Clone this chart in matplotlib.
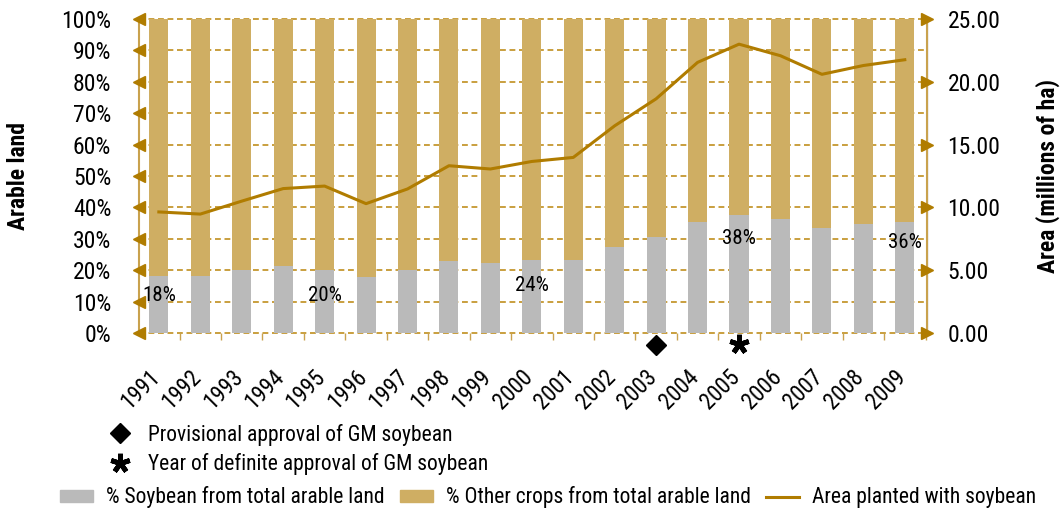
import numpy as np
from matplotlib import pyplot as plt
from matplotlib.lines import Line2D
from matplotlib.patches import Patch

plt.rcParams["font.family"] = ["Roboto Condensed", "Archivo Narrow",
                               "IBM Plex Sans Condensed", "DejaVu Sans"]

years = [str(y) for y in range(1991, 2010)]
soy_pct = [18, 18, 20, 21.5, 20, 17.7, 20, 22.8, 22.4, 23.4, 23.3,
           27.5, 30.7, 35.5, 37.5, 36.2, 33.6, 34.6, 35.5]
area_mha = [9.64, 9.47, 10.5, 11.5, 11.7, 10.3, 11.47, 13.32, 13.06, 13.66,
            13.98, 16.5, 18.65, 21.55, 23.0, 22.08, 20.6, 21.3, 21.76]
pct_labels = {"1991": "18%", "1995": "20%", "2000": "24%", "2005": "38%", "2009": "36%"}
provisional_year = "2003"
definite_year = "2005"

GOLD = "#CFAE63"
GRAY = "#BABABA"
LINE = "#B07C00"
AXIS = "#C9A24E"
GRID = "#C08F1E"

other_pct = [100 - v for v in soy_pct]
x = np.arange(len(years))

fig = plt.figure(figsize=(10.64, 5.15), dpi=100)
ax = fig.add_axes([0.1306, 0.3534, 0.7404, 0.6096])
ax2 = ax.twinx()

ax.bar(x, soy_pct, width=0.46, color=GRAY, zorder=3)
ax.bar(x, other_pct, width=0.46, bottom=soy_pct, color=GOLD, zorder=3)
ax.set_ylim(0, 100)
ax.set_xlim(-0.48, 18.53)

for v in range(0, 101, 10):
    ax.axhline(v, color=GRID, lw=1.2, ls=(0, (3.5, 2.2)), zorder=1, clip_on=False)

ax.set_yticks(range(0, 101, 10))
ax.set_yticklabels([f"{v}%" for v in range(0, 101, 10)], fontsize=17)
ax.tick_params(axis="y", length=0, pad=20)
ax.plot([0] * 11, range(0, 101, 10), marker="<", ms=8, color=LINE, ls="none",
        transform=ax.get_yaxis_transform(), clip_on=False, zorder=5)

ax.set_xticks(x + 0.5, minor=False)
ax.set_xticklabels([])
ax.tick_params(axis="x", length=5, color=AXIS, width=1)
for i, y in enumerate(years):
    ax.text(i - 0.26, -10.3, y, rotation=45, ha="right", va="top",
            rotation_mode="anchor", fontsize=16.5)

for s in ["top", "bottom"]:
    ax.spines[s].set_visible(False)
    ax2.spines[s].set_visible(False)
ax.spines["left"].set_color(AXIS)
ax.spines["left"].set_linewidth(1.5)
ax2.spines["right"].set_color(AXIS)
ax2.spines["right"].set_linewidth(1.5)
ax2.spines["left"].set_visible(False)

ax2.plot(x, area_mha, color=LINE, lw=2.2, zorder=6)
ax2.set_ylim(0, 25)
ax2.set_yticks(range(0, 26, 5))
ax2.set_yticklabels([f"{v:.2f}" for v in range(0, 26, 5)], fontsize=17)
ax2.tick_params(axis="y", length=0, pad=15)
ax2.plot([1] * 6, range(0, 26, 5), marker=">", ms=8, color=LINE, ls="none",
         transform=ax2.get_yaxis_transform(), clip_on=False, zorder=5)

for i, y in enumerate(years):
    if y in pct_labels:
        ypos = {"1991": 12, "1995": 12, "2000": 15, "2005": 30, "2009": 28.7}[y]
        ax.text(i, ypos, pct_labels[y], ha="center", va="center", fontsize=15, zorder=7)

pi = years.index(provisional_year)
di = years.index(definite_year)
ax.plot([pi], [-3.7], marker="D", ms=10, color="black", clip_on=False)
ax.plot([di], [-3.5], marker=(5, 2, 0), ms=14, mew=3.5, color="black", clip_on=False)

ax.set_ylabel("Arable land", fontsize=17, fontweight="bold", va="center")
ax.yaxis.set_label_coords(-0.1535, 0.5)
ax2.set_ylabel("Area (millions of ha)", fontsize=17, fontweight="bold",
               rotation=90, va="center")
ax2.yaxis.set_label_coords(1.154, 0.5)

mk_handles = [
    Line2D([], [], marker="D", ms=10, color="black", ls="none"),
    Line2D([], [], marker=(5, 2, 0), ms=14, mew=3.5, color="black", ls="none"),
]
fig.legend(mk_handles, ["Provisional approval of GM soybean",
                        "Year of definite approval of GM soybean"],
           loc="upper left", bbox_to_anchor=(0.0745, 0.2145), frameon=False,
           fontsize=15.5, handletextpad=0.3, labelspacing=0.35)

handles = [
    Patch(color=GRAY),
    Patch(color=GOLD),
    Line2D([], [], color=LINE, lw=2.2),
]
fig.legend(handles, ["% Soybean from total arable land",
                     "% Other crops from total arable land",
                     "Area planted with soybean"],
           loc="lower center", bbox_to_anchor=(0.515, -0.025), ncol=3, frameon=False,
           fontsize=15.5, handlelength=1.55, handleheight=0.5, columnspacing=0.7,
           handletextpad=0.6)

fig.savefig("out.png", dpi=100)
